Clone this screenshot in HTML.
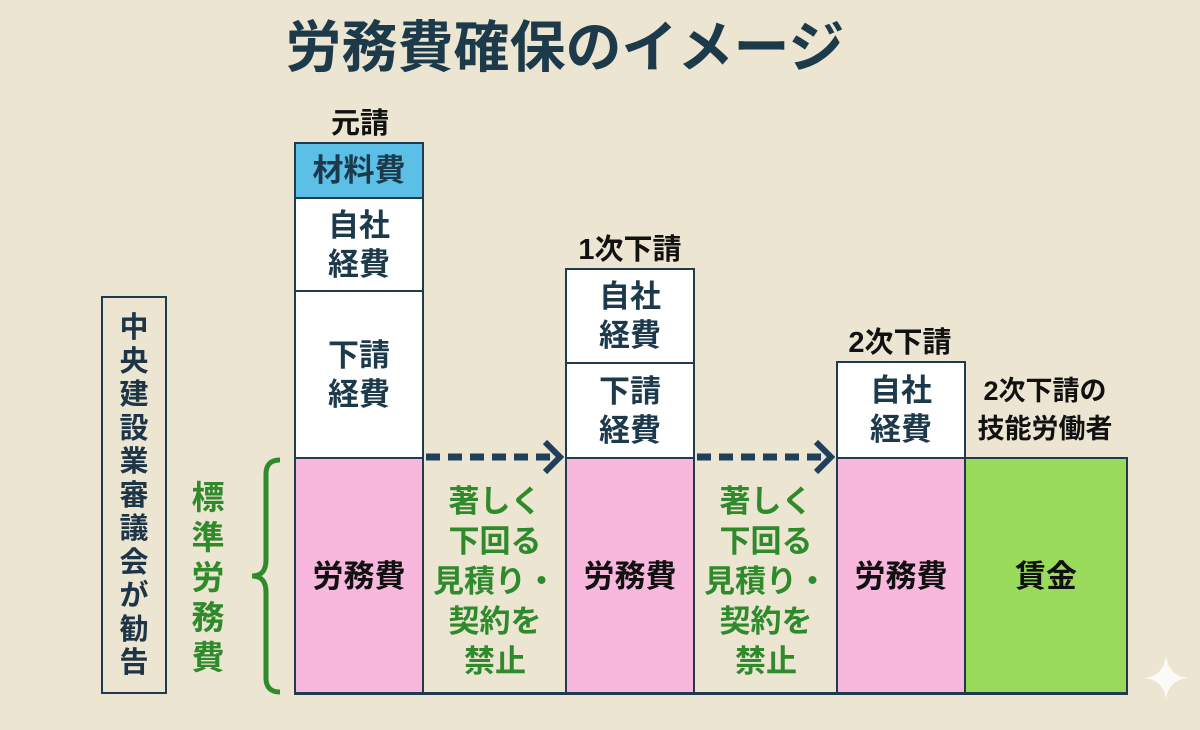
<!DOCTYPE html>
<html><head><meta charset="utf-8"><style>
*{margin:0;padding:0;box-sizing:border-box}
body{width:1200px;height:730px;background:#ece5d1;position:relative;overflow:hidden;font-family:"Liberation Sans","Noto Sans CJK JP",sans-serif;font-weight:bold;color:#1d3547}
.a{position:absolute}
.b{position:absolute;border:2.5px solid #1f3b4d;display:flex;align-items:center;justify-content:center;text-align:center;font-size:31px;line-height:39px;color:#1d3a4c}
.g{position:absolute;color:#2f8a2c;font-size:31px;line-height:40px;text-align:center}
.lbl{position:absolute;font-size:29px;text-align:center;color:#111}
</style></head><body>
<div class="a" style="left:235px;top:12px;width:660px;text-align:center;font-size:56px;line-height:72px;color:#1c3a4a">労務費確保のイメージ</div>

<div class="lbl" style="left:285px;top:100px;width:150px">元請</div>
<div class="lbl" style="left:540px;top:226px;width:180px">1次下請</div>
<div class="lbl" style="left:810px;top:319px;width:180px">2次下請</div>
<div class="lbl" style="left:955px;top:372px;width:180px;font-size:27px;line-height:38px">2次下請の<br>技能労働者</div>

<!-- column 1 -->
<div class="b" style="left:294px;top:142px;width:130px;height:57px;background:#5bbfe6">材料費</div>
<div class="b" style="left:294px;top:197px;width:130px;height:95px;background:#fff">自社<br>経費</div>
<div class="b" style="left:294px;top:290px;width:130px;height:169px;background:#fff">下請<br>経費</div>
<div class="b" style="left:294px;top:457px;width:130px;height:238px;background:#f8b8dd;color:#111">労務費</div>
<!-- column 2 -->
<div class="b" style="left:565px;top:268px;width:130px;height:96px;background:#fff">自社<br>経費</div>
<div class="b" style="left:565px;top:362px;width:130px;height:97px;background:#fff">下請<br>経費</div>
<div class="b" style="left:565px;top:457px;width:130px;height:238px;background:#f8b8dd;color:#111">労務費</div>
<!-- column 3 -->
<div class="b" style="left:836px;top:361px;width:130px;height:98px;background:#fff">自社<br>経費</div>
<div class="b" style="left:836px;top:457px;width:130px;height:238px;background:#f8b8dd;color:#111">労務費</div>
<div class="b" style="left:964px;top:457px;width:164px;height:238px;background:#9bdb5c;color:#111">賃金</div>

<div class="a" style="left:294px;top:692px;width:834px;height:3px;background:#1f3b4d"></div>

<div class="g" style="left:424px;top:482px;width:142px">著しく<br>下回る<br>見積り・<br>契約を<br>禁止</div>
<div class="g" style="left:695px;top:482px;width:142px">著しく<br>下回る<br>見積り・<br>契約を<br>禁止</div>

<svg class="a" style="left:0;top:0" width="1200" height="730">
<line x1="426" y1="457" x2="556" y2="457" stroke="#1f3f5a" stroke-width="7" stroke-dasharray="14,8"/>
<polyline points="545,442 560,457 545,472" fill="none" stroke="#1f3f5a" stroke-width="6"/>
<line x1="697" y1="457" x2="827" y2="457" stroke="#1f3f5a" stroke-width="7" stroke-dasharray="14,8"/>
<polyline points="816,442 831,457 816,472" fill="none" stroke="#1f3f5a" stroke-width="6"/>
<path d="M280,460 Q266,460 266,474 L266,560 Q266,576 252,576 Q266,576 266,592 L266,678 Q266,692 280,692" fill="none" stroke="#2f8a2c" stroke-width="5"/>
<path d="M1166,655 Q1168,676 1188,678 Q1168,680 1166,700 Q1164,680 1144,678 Q1164,676 1166,655Z" fill="#fbfaf5"/>
</svg>

<div class="a" style="left:101px;top:296px;width:66px;height:398px;border:2.5px solid #1f3b4d"></div>
<div class="a" style="left:101px;top:312px;width:66px;font-size:29px;line-height:33.5px;text-align:center;color:#1d3547">中<br>央<br>建<br>設<br>業<br>審<br>議<br>会<br>が<br>勧<br>告</div>
<div class="g" style="left:186px;top:478px;width:44px;line-height:40px;font-size:33px">標<br>準<br>労<br>務<br>費</div>
</body></html>
